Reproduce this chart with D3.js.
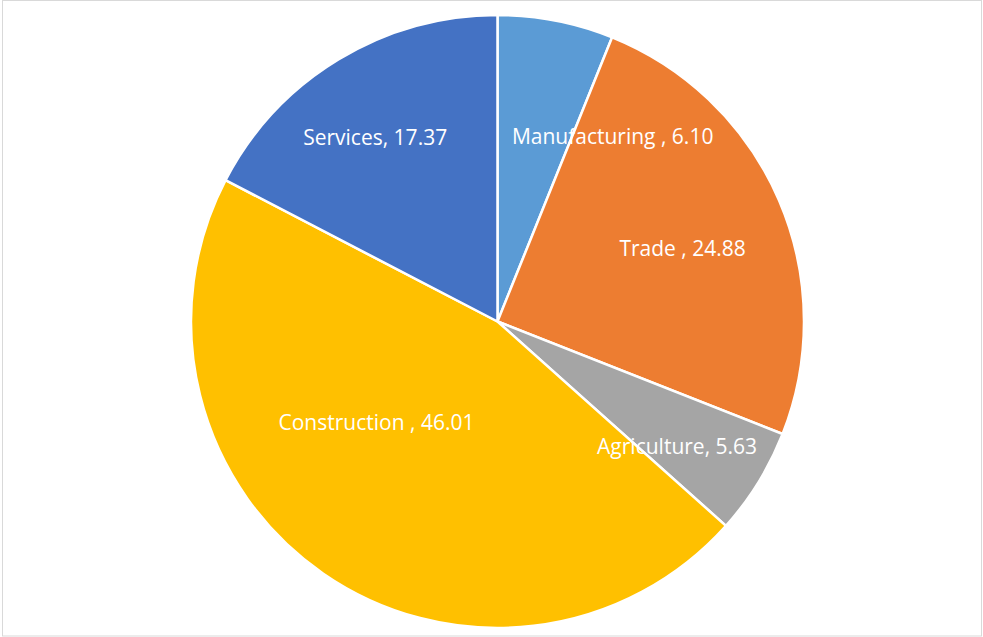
<!DOCTYPE html>
<html>
<head>
<meta charset="utf-8">
<script src="https://cdn.jsdelivr.net/npm/d3@7"></script>
<style>
  html, body { margin: 0; padding: 0; background: #fff; }
  svg { display: block; }
</style>
</head>
<body>
<svg id="chart" width="983" height="637"></svg>
<script>
// Sector shares
const categories = ["Manufacturing ", "Trade ", "Agriculture", "Construction ", "Services"];
const values = [6.10, 24.88, 5.63, 46.01, 17.37];
const colors = ["#5B9BD5", "#ED7D31", "#A5A5A5", "#FFC000", "#4472C4"];

// Label placement: angle (degrees clockwise from 12 o'clock) and fraction of radius
const labelLayout = [
  { angle: 31.7, rf: 0.715 },
  { angle: 68.1, rf: 0.651 },
  { angle: 124.5, rf: 0.711 },
  { angle: 230.6, rf: 0.511 },
  { angle: 326.6, rf: 0.725 }
];

const W = 983, H = 637;
const cx = 497.5, cy = 321.5, R = 306.5;

const svg = d3.select("#chart");

// Chart area frame
svg.append("rect")
  .attr("x", 2.5).attr("y", 0.5)
  .attr("width", W - 4).attr("height", H - 1.5)
  .attr("fill", "#fff")
  .attr("stroke", "#D9D9D9")
  .attr("stroke-width", 1);

const data = categories.map((c, i) => ({ name: c, value: values[i], color: colors[i], layout: labelLayout[i] }));

const pie = d3.pie().sort(null).value(d => d.value).startAngle(0).endAngle(2 * Math.PI);
const arc = d3.arc().innerRadius(0).outerRadius(R);

const g = svg.append("g").attr("transform", `translate(${cx},${cy})`);

const arcs = pie(data);

g.selectAll("path.slice")
  .data(arcs)
  .join("path")
  .attr("class", "slice")
  .attr("d", arc)
  .attr("fill", d => d.data.color)
  .attr("stroke", "#fff")
  .attr("stroke-width", 2.5)
  .attr("stroke-linejoin", "round");

const fmt = d3.format(".2f");

g.selectAll("text.label")
  .data(arcs)
  .join("text")
  .attr("class", "label")
  .attr("x", d => {
    const a = d.data.layout.angle * Math.PI / 180;
    return Math.sin(a) * R * d.data.layout.rf;
  })
  .attr("y", d => {
    const a = d.data.layout.angle * Math.PI / 180;
    return -Math.cos(a) * R * d.data.layout.rf;
  })
  .attr("dy", "0.42em")
  .attr("text-anchor", "middle")
  .attr("fill", "#fff")
  .attr("font-family", "'Open Sans', Lato, sans-serif")
  .attr("font-size", 21)
  .text(d => `${d.data.name}, ${fmt(d.data.value)}`);
</script>
</body>
</html>
